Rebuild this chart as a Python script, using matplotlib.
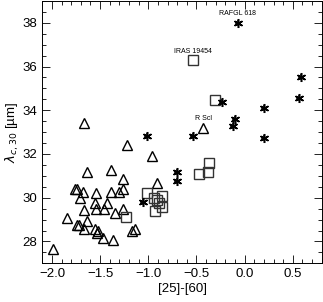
import numpy as np
import matplotlib
matplotlib.use('Agg')
import matplotlib.pyplot as plt

plt.rcParams['font.family'] = ['Liberation Sans', 'DejaVu Sans']

# triangles
tri_x = [-1.67, -1.22, -0.96, -1.64, -1.39, -1.76, -1.74, -1.68, -1.71, -1.54,
         -1.26, -1.39, -1.30, -1.26, -0.91, -1.43, -1.55, -1.67, -1.54, -1.46,
         -1.35, -1.26, -1.84, -1.64, -1.74, -1.72, -1.67, -1.55, -1.52, -1.53,
         -1.47, -1.37, -1.17, -1.14, -1.99, -0.43]
tri_y = [33.44, 32.39, 31.89, 31.16, 31.25, 30.39, 30.39, 30.25, 29.98, 30.20,
         30.84, 30.25, 30.25, 30.39, 30.66, 29.75, 29.75, 29.43, 29.47, 29.47,
         29.29, 29.47, 29.06, 28.93, 28.74, 28.74, 28.56, 28.56, 28.47, 28.38,
         28.15, 28.06, 28.47, 28.56, 27.65, 33.21]

# squares
sq_x = [-1.01, -0.94, -0.86, -0.91, -0.89, -0.86, -0.93, -1.23,
        -0.47, -0.38, -0.37, -0.31, -0.54]
sq_y = [30.20, 29.98, 30.07, 29.88, 29.75, 29.57, 29.38, 29.11,
        31.07, 31.16, 31.57, 34.49, 36.31]

# asterisks
ast_x = [-0.07, -0.23, 0.585, 0.565, 0.20, -0.10, -0.12, -0.54, 0.20,
         -1.01, -0.70, -0.70, -1.05]
ast_y = [38.0, 34.4, 35.5, 34.58, 34.12, 33.62, 33.30, 32.80, 32.71,
         32.80, 31.16, 30.75, 29.79]

labels = ['RAFGL 618', 'IRAS 19454', 'R Scl']
lab_x = [-0.07, -0.54, -0.43]
lab_y = [38.42, 36.68, 33.62]

fig = plt.figure(figsize=(3.23, 3.02), dpi=100)
ax = fig.add_axes([0.131, 0.128, 0.865, 0.869])

ax.plot(tri_x, tri_y, ls='none', marker='^', ms=7, mfc='none', mec='black', mew=1.0)
ax.plot(sq_x, sq_y, ls='none', marker='s', ms=6.5, mfc='none', mec='#333333', mew=1.0)
ax.plot(ast_x, ast_y, ls='none', marker=(6, 2, 0), ms=6.5, mec='black', mew=1.1)
ax.plot(ast_x, ast_y, ls='none', marker='+', ms=4.5, mec='black', mew=1.1)

for t, x, y in zip(labels, lab_x, lab_y):
    ax.text(x, y, t, fontsize=5, ha='center', va='center')

ax.set_xlim(-2.1, 0.8)
ax.set_ylim(27, 39)
ax.set_xticks([-2.0, -1.5, -1.0, -0.5, 0.0, 0.5])
ax.set_yticks([28, 30, 32, 34, 36, 38])
ax.set_xticks(np.arange(-2.1, 0.8, 0.1), minor=True)
ax.set_yticks(np.arange(27, 39.01, 0.5), minor=True)
ax.tick_params(which='both', direction='in', top=True, right=True, labelsize=9.5)
ax.tick_params(which='major', length=6, width=0.6)
ax.tick_params(which='minor', length=3, width=0.6)
for s in ax.spines.values():
    s.set_linewidth(0.7)

ax.set_xlabel('[25]-[60]', fontsize=9.5, labelpad=2)
ax.set_ylabel(r'$\lambda_{c,30}$ [µm]', fontsize=9.5, labelpad=1)

fig.savefig('out.png', dpi=100)
